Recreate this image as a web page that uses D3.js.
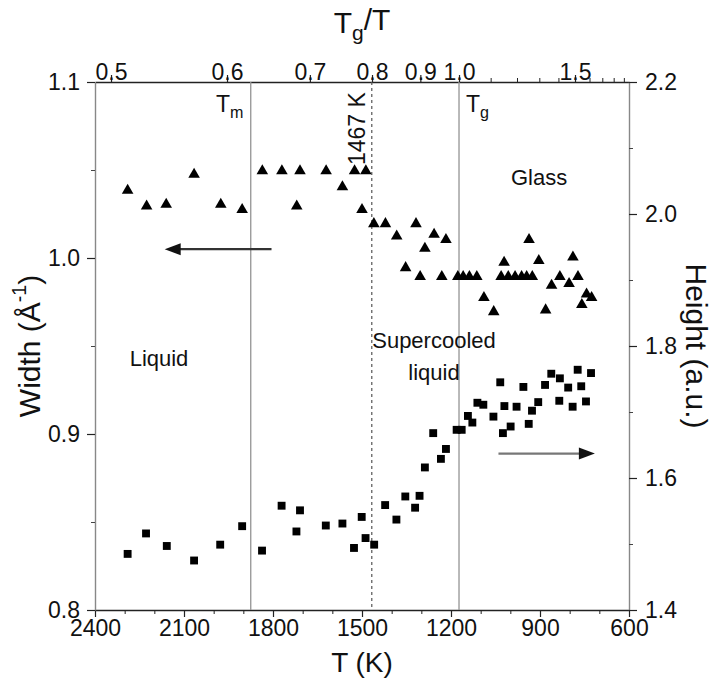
<!DOCTYPE html>
<html>
<head>
<meta charset="utf-8">
<script src="https://cdnjs.cloudflare.com/ajax/libs/d3/7.8.5/d3.min.js"></script>
<style>
    body { margin: 0; background: #fff; }
    svg text { font-family: Arial, "Liberation Sans", sans-serif; fill: #111; }
</style>
</head>
<body>
<div id="chart"></div>
<script>
// axis ticks
var tempTicks = [2400, 2100, 1800, 1500, 1200, 900, 600];
var tempMinor = [2300, 2200, 2000, 1900, 1700, 1600, 1400, 1300, 1100, 1000, 800, 700];
var widthTicks = [0.8, 0.9, 1.0, 1.1];
var widthMinor = [0.85, 0.95, 1.05];
var heightTicks = [1.4, 1.6, 1.8, 2.0, 2.2];
var heightMinor = [1.5, 1.7, 1.9, 2.1];
var ratioTicks = [0.5, 0.6, 0.7, 0.8, 0.9, 1.0, 1.5];
var ratioMinor = [1.1, 1.2, 1.3, 1.4, 1.6, 1.7, 1.8, 1.9];

// characteristic temperatures (K)
var Tg = 1173, Tm = 1875, Tcross = 1467;

// peak width (triangles, left axis)
var widthT = [2290, 2226, 2160, 2066, 1976, 1904, 1836, 1770, 1709, 1720, 1621, 1566, 1525, 1487, 1500,
    1460, 1421, 1383, 1353, 1318, 1304, 1288, 1257, 1231, 1217, 1177, 1159, 1138, 1113, 1089, 1056, 1021,
    1031, 1007, 984, 962, 945, 926, 937, 904, 881, 861, 833, 802, 789, 772, 759, 743, 726];
var widthVal = [1.039, 1.030, 1.031, 1.048, 1.031, 1.028, 1.050, 1.050, 1.050, 1.030, 1.050, 1.041, 1.050,
    1.050, 1.028, 1.020, 1.020, 1.013, 0.995, 1.020, 0.990, 1.006, 1.014, 0.990, 1.011, 0.990, 0.990, 0.990,
    0.990, 0.978, 0.970, 0.998, 0.990, 0.990, 0.990, 0.990, 0.990, 0.990, 1.011, 0.999, 0.971, 0.985, 0.990,
    0.986, 1.001, 0.990, 0.974, 0.980, 0.978];

// peak height (squares, right axis)
var heightT = [2290, 2228, 2158, 2066, 1978, 1904, 1837, 1771, 1709, 1721, 1622, 1566, 1527, 1501, 1488,
    1459, 1422, 1384, 1354, 1321, 1306, 1288, 1260, 1234, 1217, 1181, 1164, 1143, 1128, 1111, 1091, 1057,
    1034, 1025, 1020, 999, 979, 956, 938, 927, 906, 883, 862, 835, 833, 805, 790, 773, 761, 745, 728];
var heightVal = [1.485, 1.516, 1.497, 1.475, 1.499, 1.527, 1.490, 1.558, 1.551, 1.519, 1.528, 1.531, 1.494,
    1.541, 1.509, 1.499, 1.559, 1.537, 1.572, 1.555, 1.573, 1.616, 1.668, 1.629, 1.644, 1.673, 1.673, 1.694,
    1.684, 1.714, 1.711, 1.693, 1.745, 1.668, 1.709, 1.678, 1.708, 1.738, 1.682, 1.702, 1.715, 1.741, 1.758,
    1.717, 1.751, 1.737, 1.708, 1.764, 1.739, 1.716, 1.759];

var margin = {top: 82, right: 92, bottom: 74, left: 95};
var W = 721 - margin.left - margin.right;
var H = 684 - margin.top - margin.bottom;

var svg = d3.select("#chart").append("svg")
    .attr("width", 721).attr("height", 684)
    .style("background", "#fff");

var g = svg.append("g").attr("transform", "translate(" + margin.left + "," + margin.top + ")");

var x = d3.scaleLinear().domain([2400, 600]).range([0, W]);
var yW = d3.scaleLinear().domain([0.8, 1.1]).range([H, 0]);
var yH = d3.scaleLinear().domain([1.4, 2.2]).range([H, 0]);

var fmt1 = d3.format(".1f");

function styleAxis(sel, color) {
    sel.selectAll("path.domain").attr("stroke", color).attr("stroke-width", 1.4);
    sel.selectAll(".tick line").attr("stroke", color).attr("stroke-width", 1.2);
    sel.selectAll(".tick text").attr("font-size", 23).attr("font-family", "Arial, 'Liberation Sans', sans-serif").attr("fill", "#111");
}

// bottom axis
var bottomAxis = g.append("g").attr("transform", "translate(0," + H + ")")
    .call(d3.axisBottom(x).tickValues(tempTicks).tickSize(7).tickSizeOuter(0).tickPadding(3).tickFormat(d3.format("d")));
styleAxis(bottomAxis, "#222");
g.append("g").attr("transform", "translate(0," + H + ")")
    .call(d3.axisBottom(x).tickValues(tempMinor).tickSize(4).tickFormat(""))
    .call(function (s) { s.select(".domain").remove(); s.selectAll("line").attr("stroke", "#222"); });

// top axis, Tg/T
var topAxis = g.append("g")
    .call(d3.axisTop(x).tickValues(ratioTicks.map(function (v) { return Tg / v; }))
        .tickSize(7).tickSizeOuter(0).tickPadding(-5)
        .tickFormat(function (d) { return fmt1(Tg / d); }));
styleAxis(topAxis, "#222");
g.append("g")
    .call(d3.axisTop(x).tickValues(ratioMinor.map(function (v) { return Tg / v; })).tickSize(4).tickFormat(""))
    .call(function (s) { s.select(".domain").remove(); s.selectAll("line").attr("stroke", "#222"); });

// left axis, width
var leftAxis = g.append("g")
    .call(d3.axisLeft(yW).tickValues(widthTicks).tickSize(8).tickSizeOuter(0).tickPadding(7).tickFormat(fmt1));
styleAxis(leftAxis, "#888");
leftAxis.selectAll(".tick line").attr("stroke", "#222");
g.append("g")
    .call(d3.axisLeft(yW).tickValues(widthMinor).tickSize(4).tickFormat(""))
    .call(function (s) { s.select(".domain").remove(); s.selectAll("line").attr("stroke", "#444"); });

// right axis, height
var rightAxis = g.append("g").attr("transform", "translate(" + W + ",0)")
    .call(d3.axisRight(yH).tickValues(heightTicks).tickSize(8).tickSizeOuter(0).tickPadding(8).tickFormat(fmt1));
styleAxis(rightAxis, "#888");
rightAxis.selectAll(".tick line").attr("stroke", "#222");
g.append("g").attr("transform", "translate(" + W + ",0)")
    .call(d3.axisRight(yH).tickValues(heightMinor).tickSize(4).tickFormat(""))
    .call(function (s) { s.select(".domain").remove(); s.selectAll("line").attr("stroke", "#444"); });

// Tm and Tg boundaries, plus the 1467 K crossover
g.selectAll("line.bound").data([Tm, Tg]).enter().append("line")
    .attr("class", "bound")
    .attr("x1", function (d) { return x(d); }).attr("x2", function (d) { return x(d); })
    .attr("y1", 0).attr("y2", H)
    .attr("stroke", "#939393").attr("stroke-width", 1.3);
g.append("line")
    .attr("x1", x(Tcross)).attr("x2", x(Tcross))
    .attr("y1", 0).attr("y2", H)
    .attr("stroke", "#555").attr("stroke-width", 1.2)
    .attr("stroke-dasharray", "3,3");

// data
var tri = d3.symbol().type(d3.symbolTriangle).size(58);
g.selectAll("path.width").data(d3.zip(widthT, widthVal)).enter().append("path")
    .attr("class", "width")
    .attr("d", tri)
    .attr("transform", function (d) { return "translate(" + x(d[0]) + "," + (yW(d[1]) + 1) + ")"; })
    .attr("fill", "#000");

var sq = d3.symbol().type(d3.symbolSquare).size(62);
g.selectAll("path.height").data(d3.zip(heightT, heightVal)).enter().append("path")
    .attr("class", "height")
    .attr("d", sq)
    .attr("transform", function (d) { return "translate(" + x(d[0]) + "," + yH(d[1]) + ")"; })
    .attr("fill", "#000");

// arrows
function arrow(x0, x1, y, color) {
    var dir = x1 < x0 ? 1 : -1;
    g.append("line")
        .attr("x1", x0).attr("x2", x1 + dir * 14)
        .attr("y1", y).attr("y2", y)
        .attr("stroke", color).attr("stroke-width", 2.2);
    g.append("path")
        .attr("d", "M" + x1 + "," + y + "L" + (x1 + dir * 16) + "," + (y - 6) + "L" + (x1 + dir * 16) + "," + (y + 6) + "Z")
        .attr("fill", "#111");
}
arrow(x(1805), x(2165), yW(1.005), "#333");
arrow(x(1040), x(715), yH(1.637), "#777");

// annotations
var txt = svg.append("g").attr("font-size", 22);
function sub(sel, main, s) {
    sel.append("tspan").text(main);
    sel.append("tspan").attr("font-size", "0.7em").attr("dy", "0.35em").text(s);
}
sub(txt.append("text").attr("x", 216).attr("y", 112).attr("font-size", 23), "T", "m");
sub(txt.append("text").attr("x", 466).attr("y", 112).attr("font-size", 23), "T", "g");
txt.append("text").attr("transform", "translate(365,165) rotate(-90)").attr("font-size", 23).text("1467 K");
txt.append("text").attr("x", 511).attr("y", 185).text("Glass");
txt.append("text").attr("x", 159).attr("y", 366).attr("text-anchor", "middle").text("Liquid");
txt.append("text").attr("x", 434).attr("y", 348).attr("text-anchor", "middle").text("Supercooled");
txt.append("text").attr("x", 434).attr("y", 380).attr("text-anchor", "middle").text("liquid");

// axis titles
var tTop = svg.append("text").attr("x", 362).attr("y", 33).attr("text-anchor", "middle").attr("font-size", 30);
sub(tTop, "T", "g");
tTop.append("tspan").attr("dy", "-0.35em").text("/T");

svg.append("text").attr("x", margin.left + W / 2).attr("y", 672)
    .attr("text-anchor", "middle").attr("font-size", 28).text("T (K)");

var yl = svg.append("text").attr("transform", "translate(40," + (margin.top + H / 2) + ") rotate(-90)")
    .attr("text-anchor", "middle").attr("font-size", 30);
yl.append("tspan").text("Width (\u00c5");
yl.append("tspan").attr("font-size", "0.65em").attr("dy", "-0.7em").text("-1");
yl.append("tspan").attr("dy", "0.45em").text(")");

svg.append("text").attr("transform", "translate(686," + (margin.top + H / 2) + ") rotate(90)")
    .attr("text-anchor", "middle").attr("font-size", 30).text("Height (a.u.)");
</script>
</body>
</html>
